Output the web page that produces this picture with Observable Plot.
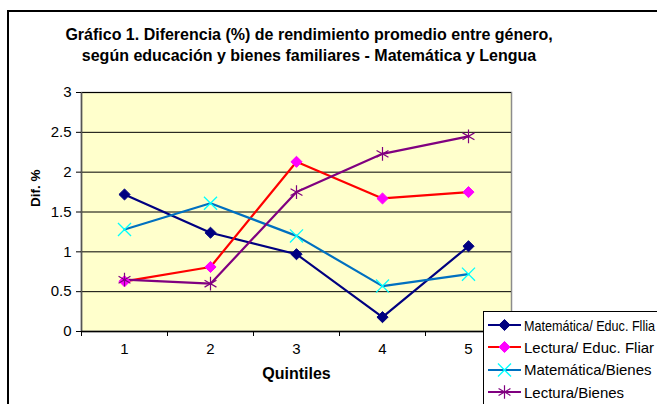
<!DOCTYPE html>
<html>
<head>
<meta charset="utf-8">
<script src="https://cdn.jsdelivr.net/npm/d3@7"></script>
<script src="https://cdn.jsdelivr.net/npm/@observablehq/plot@0.6"></script>
<style>
  html, body { margin: 0; padding: 0; background: #fff; overflow: hidden; }
  #wrap { position: relative; width: 657px; height: 404px; font-family: "Liberation Sans", Arial, sans-serif; }
  #border { position: absolute; left: 7px; top: 10px; width: 700px; height: 450px; border: 2px solid #000; box-sizing: border-box; pointer-events: none; }
  #title { position: absolute; left: 0; top: 24px; width: 618px; text-align: center; font-weight: bold; font-size: 16px; line-height: 21px; color: #000; }
  #chart { position: absolute; left: 0; top: 0; }
  #legend { position: absolute; left: 483px; top: 311px; width: 200px; height: 120px; background: #fff; border: 1px solid #000; box-sizing: border-box; }
  .item { position: absolute; left: 4px; height: 20px; display: flex; align-items: center; font-size: 15px; color: #000; white-space: nowrap; }
  .item svg { margin-right: 3px; flex: none; }
  .item span { display: inline-block; transform-origin: left center; }
</style>
</head>
<body>
<div id="wrap">
  <div id="chart"></div>
  <div id="title">Gráfico 1. Diferencia (%) de rendimiento promedio entre género,<br>según educación y bienes familiares - Matemática y Lengua</div>
  <div id="border"></div>
  <div id="legend"></div>
</div>
<script>
const quintiles = [1, 2, 3, 4, 5];
const seriesNames = ["Matemática/ Educ. Fllia", "Lectura/ Educ. Fliar", "Matemática/Bienes", "Lectura/Bienes"];
const matEduc = [1.72, 1.24, 0.97, 0.18, 1.07];
const lecEduc = [0.63, 0.81, 2.13, 1.67, 1.75];
const matBienes = [1.28, 1.61, 1.20, 0.57, 0.72];
const lecBienes = [0.65, 0.60, 1.75, 2.23, 2.45];
const yTicks = [0, 0.5, 1, 1.5, 2, 2.5, 3];
const xTickLabels = ["1", "2", "3", "4", "5"];
const xTickMarks = [0.5, 1.5, 2.5, 3.5, 4.5, 5.5];

const styles = [
  {line: "#000080", stroke: "#000080", fill: "#000080", symbol: "diamond2", r: 5, sw: 1},
  {line: "#FF0000", stroke: "#FF00FF", fill: "#FF00FF", symbol: "diamond2", r: 5, sw: 1},
  {line: "#0070C0", stroke: "#00FFFF", fill: "none", symbol: "times", r: 6, sw: 1.3},
  {line: "#800080", stroke: "#800080", fill: "none", symbol: "asterisk", r: 6.5, sw: 1.2}
];
const allValues = [matEduc, lecEduc, matBienes, lecBienes];
const data = [];
allValues.forEach((vals, i) => vals.forEach((v, j) => data.push({serie: seriesNames[i], idx: i, q: quintiles[j], v})));

const marks = [
  Plot.frame({fill: "#FFFFCC", stroke: "#8c8c8c", strokeWidth: 1.5}),
  Plot.gridY(yTicks, {stroke: "#000", strokeOpacity: 1, strokeWidth: 1}),
  Plot.ruleX([0.5], {stroke: "#555", strokeWidth: 1.5}),
  Plot.ruleY([0], {stroke: "#000", strokeWidth: 1.5}),
  Plot.axisY(yTicks, {tickSize: 5, tickFormat: () => "", label: null}),
  Plot.axisX(xTickMarks, {tickSize: 5, tickFormat: () => "", label: null}),
  Plot.text(yTicks, {x: 0.5, y: d => d, text: d => String(d), textAnchor: "end", dx: -10, fontSize: 15, fill: "#000"}),
  Plot.text(quintiles, {x: d => d, frameAnchor: "bottom", text: (d, i) => xTickLabels[i], dy: 22, fontSize: 15, fill: "#000"}),
  Plot.text(["Dif. %"], {frameAnchor: "left", rotate: -90, dx: -46, dy: -5, fontWeight: "bold", fontSize: 13.5}),
  Plot.text(["Quintiles"], {frameAnchor: "bottom", dy: 47, fontWeight: "bold", fontSize: 16})
];
styles.forEach((s, i) => {
  const d = data.filter(e => e.idx === i);
  marks.push(Plot.line(d, {x: "q", y: "v", stroke: s.line, strokeWidth: 2.2}));
});
styles.forEach((s, i) => {
  const d = data.filter(e => e.idx === i);
  marks.push(Plot.dot(d, {x: "q", y: "v", symbol: () => s.symbol, r: s.r, fill: s.fill, stroke: s.stroke, strokeWidth: s.sw}));
});

const chart = Plot.plot({
  width: 657,
  height: 404,
  marginLeft: 81,
  marginRight: 146,
  marginTop: 92,
  marginBottom: 73,
  style: {fontFamily: "'Liberation Sans', Arial, sans-serif", fontSize: "15px", color: "#000", background: "transparent"},
  x: {type: "linear", domain: [0.5, 5.5], axis: null},
  y: {domain: [0, 3], axis: null},
  symbol: {type: "identity"},
  marks
});
document.getElementById("chart").appendChild(chart);

// Legend
const symTypes = {diamond2: d3.symbolDiamond2, times: d3.symbolTimes, asterisk: d3.symbolAsterisk};
const legend = d3.select("#legend");
styles.forEach((s, i) => {
  const item = legend.append("div").attr("class", "item").style("top", (3 + i * 22.4) + "px");
  const sw = item.append("svg").attr("width", 33).attr("height", 14);
  sw.append("line").attr("x1", 0).attr("x2", 33).attr("y1", 7).attr("y2", 7).attr("stroke", s.line).attr("stroke-width", 2.2);
  const sym = d3.symbol().type(symTypes[s.symbol]).size(s.r * s.r * Math.PI)();
  sw.append("path").attr("d", sym).attr("transform", "translate(16.5,7)").attr("fill", s.fill).attr("stroke", s.stroke).attr("stroke-width", s.sw);
  const span = item.append("span").text(seriesNames[i]);
  const node = span.node();
  const left = node.getBoundingClientRect().left;
  const w = node.getBoundingClientRect().width;
  const avail = 655 - left;
  if (w > avail) span.style("transform", `scaleX(${avail / w})`);
});
</script>
</body>
</html>
